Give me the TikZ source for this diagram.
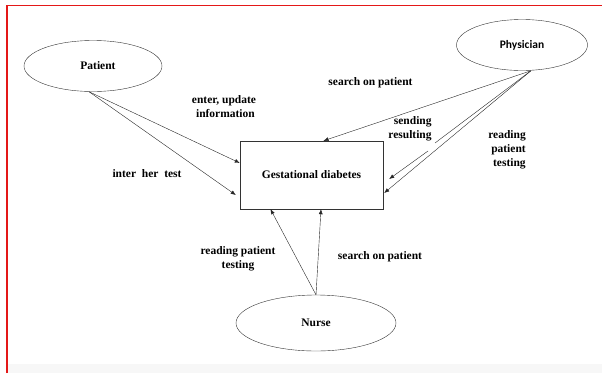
\documentclass[tikz,border=0pt]{standalone}
\usepackage{fontspec}
\setmainfont{Liberation Serif}
\newfontfamily\physfont{Carlito}
\usetikzlibrary{arrows.meta,shapes.geometric}
\definecolor{framered}{RGB}{228,24,24}
\tikzset{
	actor/.style={draw=black!80,ellipse,thin,inner sep=0pt,font=\bfseries\fontsize{11.5}{14}\selectfont},
	sysbox/.style={draw=black!80,thin,inner sep=0pt,minimum width=143pt,minimum height=68pt,font=\bfseries\fontsize{11.5}{14}\selectfont},
	flow/.style={-{Latex[length=5pt,width=4pt]},draw=black!85,thin},
	lbl/.style={font=\bfseries\fontsize{11.5}{14}\selectfont,inner sep=0pt},
}
\begin{document}
\begin{tikzpicture}[x=1pt,y=-1pt]
	\useasboundingbox (0,0) rectangle (602,373);
	\fill[black!3] (8,364) rectangle (602,373);
	\draw[line width=1.5pt,framered] (7,373) -- (7,5.5) -- (602,5.5);

	\node[actor,minimum width=138pt,minimum height=51pt] (patient) at (93,66) {\hspace{10pt}Patient};
	\node[actor,minimum width=131pt,minimum height=51pt,font=\physfont\bfseries\fontsize{11.5}{14}\selectfont] (physician) at (522,45) {Physician};
	\node[actor,minimum width=160pt,minimum height=56pt] (nurse) at (316,323) {Nurse};
	\node[sysbox] (box) at (311.5,175) {Gestational diabetes};

	\node[lbl,align=center] (enter) at (224,106.5) {enter, update\\ \ information};
	\node[lbl] (inter) at (147,174) {inter\ \ her\ \ test};
	\node[lbl] (searchphys) at (370.5,83) {search on patient};
	\node[lbl,align=right] (sending) at (410,129) {sending\\resulting};
	\node[lbl,align=right] (readphys) at (507,150) {reading\\patient\\testing};
	\node[lbl,align=center] (readnurse) at (238,259) {reading patient\\testing};
	\node[lbl] (searchnurse) at (380,257) {search on patient};

	\coordinate (gapA) at (435,143);
	\coordinate (gapB) at (428,151);

	\draw[flow] ([xshift=-4pt]patient.south) -- ([yshift=12pt]box.west);
	\draw[flow] ([xshift=-4pt]patient.south) -- ([xshift=-4pt,yshift=-20pt]box.west);
	\draw[flow] ([xshift=9pt]physician.south) -- ([xshift=12pt]box.north);
	\draw[draw=black!85,thin] ([xshift=9pt]physician.south) -- (gapA);
	\draw[flow] (gapB) -- ([xshift=6pt,yshift=-4pt]box.east);
	\draw[flow] ([xshift=9pt]physician.south) -- ([xshift=1pt,yshift=-18pt]box.east);
	\draw[flow] (nurse.north) -- ([xshift=-41pt]box.south);
	\draw[flow] (nurse.north) -- ([xshift=9.5pt]box.south);
\end{tikzpicture}
\end{document}
